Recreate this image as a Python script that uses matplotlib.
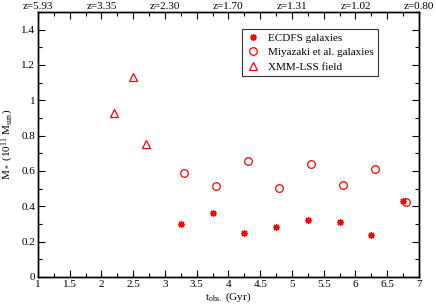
import matplotlib
matplotlib.use("Agg")
import matplotlib.pyplot as plt
from matplotlib.ticker import MultipleLocator, FixedLocator, NullFormatter

plt.rcParams["font.family"] = ["Liberation Serif", "DejaVu Serif"]
plt.rcParams["mathtext.fontset"] = "custom"
plt.rcParams["mathtext.rm"] = "Liberation Serif"
plt.rcParams["mathtext.it"] = "Liberation Serif"

ecdfs_t = [3.25, 3.75, 4.25, 4.75, 5.25, 5.75, 6.25, 6.75]
ecdfs_m = [0.30, 0.36, 0.25, 0.285, 0.32, 0.31, 0.24, 0.43]

miya_t = [3.30, 3.80, 4.30, 4.80, 5.30, 5.80, 6.30, 6.80]
miya_m = [0.59, 0.515, 0.655, 0.505, 0.64, 0.52, 0.61, 0.425]

xmm_t = [2.2, 2.5, 2.7]
xmm_m = [0.93, 1.13, 0.75]

x_ticks = [1, 1.5, 2, 2.5, 3, 3.5, 4, 4.5, 5, 5.5, 6, 6.5, 7]
x_labels = ["1", "1.5", "2", "2.5", "3", "3.5", "4", "4.5", "5", "5.5", "6", "6.5", "7"]
y_ticks = [0, 0.2, 0.4, 0.6, 0.8, 1.0, 1.2, 1.4]
y_labels = ["0", "0.2", "0.4", "0.6", "0.8", "1", "1.2", "1.4"]
z_ticks = [1, 2, 3, 4, 5, 6, 7]
z_labels = ["z=5.93", "z=3.35", "z=2.30", "z=1.70", "z=1.31", "z=1.02", "z=0.80"]

red = "#ff0000"

fig = plt.figure(figsize=(4.36, 3.07), dpi=100)
ax = fig.add_axes([0.087, 0.098, 0.874, 0.863])

ax.plot(ecdfs_t, ecdfs_m, linestyle="none", marker=(8, 2, 0), markersize=5,
        markeredgewidth=0.9, color=red, label="ECDFS galaxies")
ax.plot(miya_t, miya_m, linestyle="none", marker="o", markersize=5.5,
        markerfacecolor="none", markeredgewidth=0.9, color=red,
        label="Miyazaki et al. galaxies")
ax.plot(xmm_t, xmm_m, linestyle="none", marker="^", markersize=6,
        markerfacecolor="none", markeredgewidth=0.9, color=red,
        label="XMM-LSS field")

ax.set_xlim(1, 7)
ax.set_ylim(0, 1.5)

ax.xaxis.set_major_locator(FixedLocator(x_ticks))
ax.xaxis.set_minor_locator(MultipleLocator(0.25))
ax.yaxis.set_major_locator(FixedLocator(y_ticks))
ax.yaxis.set_minor_locator(MultipleLocator(0.1))
ax.set_xticklabels(x_labels)
ax.set_yticklabels(y_labels)

ax.tick_params(which="both", direction="in", right=True, labelsize=8, pad=2)
ax.tick_params(which="major", length=5, width=0.8)
ax.tick_params(which="minor", length=3, width=0.8)

top = ax.twiny()
top.set_xlim(ax.get_xlim())
top.xaxis.set_major_locator(FixedLocator(x_ticks))
top.xaxis.set_minor_locator(MultipleLocator(0.25))
top.xaxis.set_major_formatter(NullFormatter())
top.tick_params(which="both", direction="in", labelsize=8, pad=2)
top.tick_params(which="major", length=5, width=0.8)
top.tick_params(which="minor", length=3, width=0.8)
for t, lab in zip(z_ticks, z_labels):
    top.text(t, 1.005, lab, transform=top.get_xaxis_transform(),
             ha="center", va="bottom", fontsize=8)

for a in (ax, top):
    for s in a.spines.values():
        s.set_linewidth(1.0)

ax.set_xlabel(r"t$_{\rm obs.}$ (Gyr)", fontsize=8, labelpad=1)
ax.set_ylabel(r"M$_*$ (10$^{11}$ M$_{\rm sun}$)", fontsize=8, labelpad=4)

leg = ax.legend(loc="upper right", bbox_to_anchor=(0.892, 0.936), fontsize=8,
                frameon=True, fancybox=False, edgecolor="black",
                borderpad=0.35, handletextpad=0.8, labelspacing=0.45,
                handlelength=1.2, borderaxespad=0)
leg.get_frame().set_linewidth(0.8)

fig.savefig("out.png", dpi=100)
